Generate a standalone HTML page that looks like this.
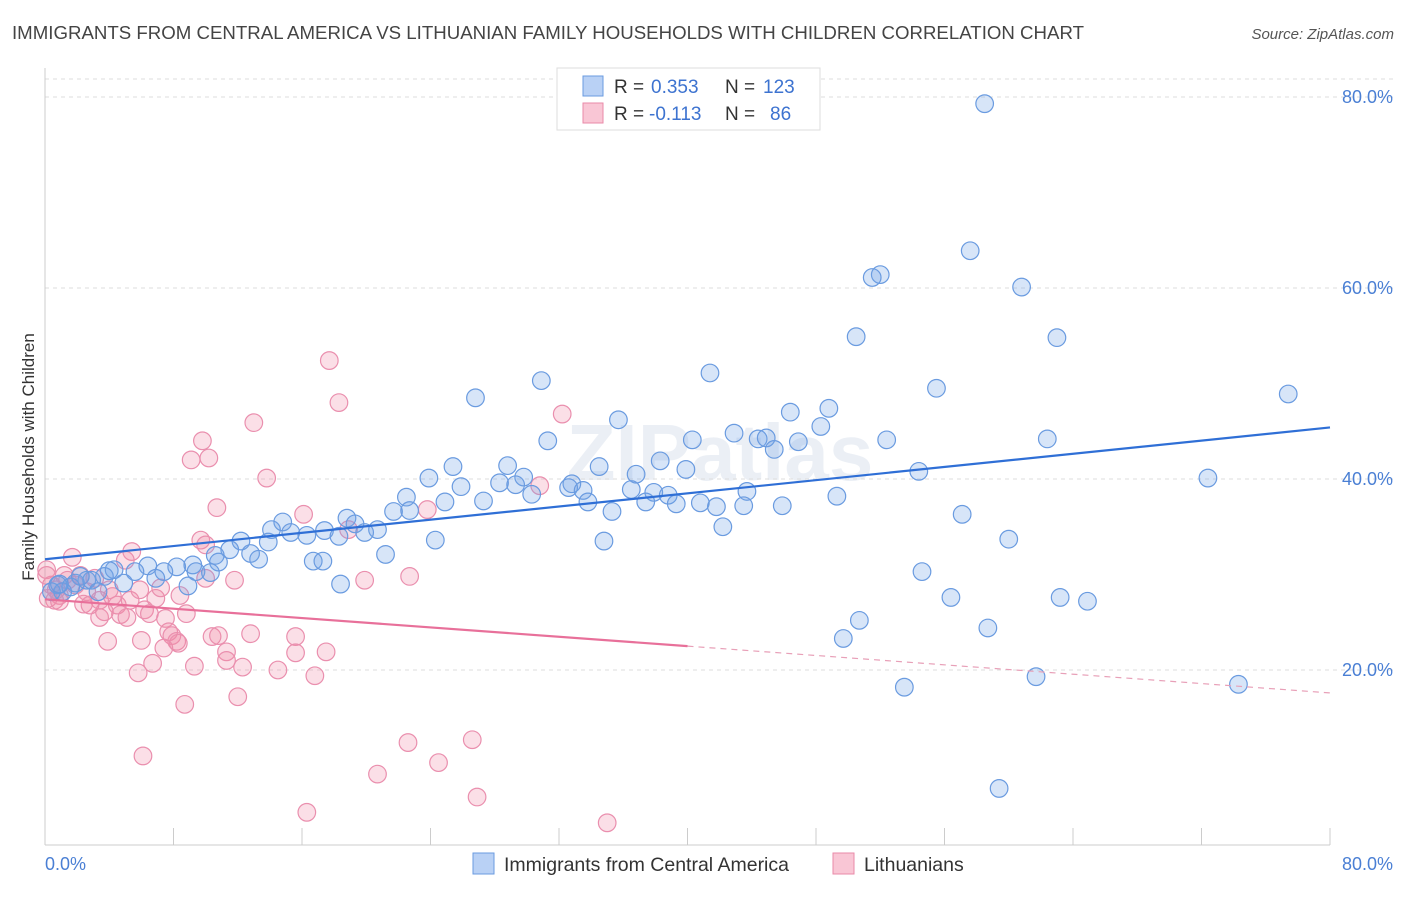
<!DOCTYPE html>
<html><head><meta charset="utf-8"><style>
body{margin:0;background:#fff;font-family:"Liberation Sans",sans-serif;}
svg text{font-family:"Liberation Sans",sans-serif;}
</style></head><body>
<svg id="chart" width="1406" height="892" xmlns="http://www.w3.org/2000/svg">
<text x="12" y="39" font-size="18.6" fill="#444" textLength="1072" lengthAdjust="spacingAndGlyphs">IMMIGRANTS FROM CENTRAL AMERICA VS LITHUANIAN FAMILY HOUSEHOLDS WITH CHILDREN CORRELATION CHART</text>
<text x="1394" y="39" font-size="15" fill="#555" font-style="italic" text-anchor="end">Source: ZipAtlas.com</text>
<text x="720" y="480" font-size="80" fill="#dfe6f0" text-anchor="middle" font-weight="bold" opacity="0.6">ZIPatlas</text>
<g id="grid"></g>
<g id="axes"></g>
<g id="pinkPts"></g>
<g id="bluePts"></g>
<g id="trends"></g>
<text transform="translate(34,457) rotate(-90)" font-size="17" fill="#333" text-anchor="middle">Family Households with Children</text>
<g>
<rect x="557" y="68" width="263" height="62" fill="#fff" stroke="#ddd"/>
<rect x="583" y="76" width="20" height="20" fill="#b9d1f5" stroke="#6a9be0"/>
<rect x="583" y="103" width="20" height="20" fill="#f9c6d5" stroke="#e98aa8"/>
<text x="614" y="93" font-size="19" fill="#333">R =</text>
<text x="651" y="93" font-size="19" fill="#3d73d0">0.353</text>
<text x="725" y="93" font-size="19" fill="#333">N =</text>
<text x="763" y="93" font-size="19" fill="#3d73d0">123</text>
<text x="614" y="120" font-size="19" fill="#333">R =</text>
<text x="649" y="120" font-size="19" fill="#3d73d0">-0.113</text>
<text x="725" y="120" font-size="19" fill="#333">N =</text>
<text x="770" y="120" font-size="19" fill="#3d73d0">86</text>
</g>
<g>
<rect x="473" y="853" width="21" height="21" fill="#b9d1f5" stroke="#6a9be0"/>
<text x="504" y="871" font-size="19.5" fill="#333">Immigrants from Central America</text>
<rect x="833" y="853" width="21" height="21" fill="#f9c6d5" stroke="#e98aa8"/>
<text x="864" y="871" font-size="19.5" fill="#333">Lithuanians</text>
</g>
</svg>
<script>
const blueX=[58.5,57.6,52.0,51.5,60.8,50.5,63.0,41.4,30.9,55.5,26.8,77.4,46.4,48.8,35.7,48.3,42.9,44.4,44.9,31.3,40.3,46.9,52.4,62.4,45.4,38.3,39.9,25.4,28.8,34.5,23.9,36.8,54.4,72.4,28.3,29.8,32.8,25.9,29.3,32.6,33.5,36.5,37.9,38.8,43.7,49.3,22.5,24.9,27.3,30.3,33.8,37.4,39.3,40.8,41.8,43.5,45.9,21.7,22.7,35.3,57.1,18.8,14.8,19.3,14.1,15.3,16.3,17.4,20.7,18.3,19.9,12.2,13.9,11.5,12.8,10.6,13.3,21.2,24.3,34.8,42.2,60.0,16.7,17.3,9.2,10.8,8.2,6.4,7.4,9.4,4.3,5.6,3.7,2.6,6.9,1.9,2.9,10.3,4.9,8.9,0.8,1.6,1.1,0.4,3.3,18.4,54.6,56.4,63.2,64.9,50.7,49.7,58.7,53.5,61.7,74.3,59.4,0.9,2.2,4.0];
const blueY=[79.3,63.9,61.4,61.1,60.1,54.9,54.8,51.1,50.3,49.5,48.5,48.9,47.0,47.4,46.2,45.5,44.8,44.2,44.3,44.0,44.1,43.9,44.1,44.2,43.1,41.9,41.0,41.3,41.4,41.3,40.1,40.5,40.8,40.1,39.6,40.2,39.5,39.2,39.4,39.1,38.8,38.9,38.6,38.3,38.7,38.2,38.1,37.6,37.7,38.4,37.6,37.6,37.4,37.5,37.1,37.2,37.2,36.6,36.7,36.6,36.3,35.9,35.5,35.3,34.7,34.4,34.1,34.6,34.7,34.0,34.4,33.5,33.4,32.6,32.2,32.0,31.6,32.1,33.6,33.5,35.0,33.7,31.4,31.4,31.0,31.3,30.8,30.9,30.3,30.3,30.5,30.3,29.8,29.4,29.6,29.1,29.4,30.2,29.1,28.8,28.9,28.7,28.2,28.2,28.2,29.0,30.3,27.6,27.6,27.2,25.2,23.3,24.4,18.2,19.3,18.5,7.6,29.0,29.8,30.4];
const pinkX=[17.7,18.3,13.0,9.8,9.1,10.2,13.8,32.2,10.7,16.1,30.8,23.8,18.9,9.7,10.0,5.4,1.7,5.0,1.2,2.2,3.1,0.1,0.4,0.9,1.4,2.6,3.4,4.0,4.5,5.3,6.2,6.9,7.2,8.4,4.7,3.4,3.7,5.1,6.5,7.5,8.8,19.9,22.7,0.6,0.2,7.7,7.9,8.2,10.4,10.8,12.8,15.6,6.0,3.9,7.4,8.3,11.3,15.6,17.5,11.3,12.3,6.7,9.3,14.5,5.8,16.8,12.0,8.7,6.1,22.6,26.6,20.7,24.5,16.3,26.9,35.0,0.1,0.7,1.9,2.4,4.2,11.8,10.0,0.9,2.8,5.9];
const pinkY=[52.4,48.0,45.9,44.0,42.0,42.2,40.1,46.8,37.0,36.3,39.3,36.8,34.7,33.6,33.1,32.4,31.8,31.5,29.9,29.9,29.6,30.5,28.9,27.8,29.4,28.2,27.3,28.4,26.8,27.3,26.3,27.5,28.6,27.8,25.8,25.5,26.1,25.5,25.9,25.4,25.9,29.4,29.8,27.3,27.5,24.0,23.6,23.0,23.5,23.6,23.8,23.5,23.1,23.0,22.3,22.8,21.9,21.8,21.9,21.0,20.3,20.7,20.4,20.0,19.7,19.4,17.2,16.4,11.0,12.4,12.7,9.1,10.3,5.1,6.7,4.0,29.9,28.4,28.9,26.9,27.7,29.4,29.6,27.2,26.8,28.4];
const blueTrend=[31.6,45.4];
const pinkTrend=[27.4,17.6];
const yTicks=[20,40,60,80];
const yTickLabels=["20.0%","40.0%","60.0%","80.0%"];
const xTickVals=[0,8,16,24,32,40,48,56,64,72,80];

const NS="http://www.w3.org/2000/svg";
const X=v=>45+v*16.0625;
const Y=v=>861-v*9.55;
function mk(tag,attrs,parent){const e=document.createElementNS(NS,tag);for(const k in attrs)e.setAttribute(k,attrs[k]);parent.appendChild(e);return e;}
const grid=document.getElementById('grid'),axes=document.getElementById('axes');
let tl=mk('line',{x1:45,x2:1393,y1:79,y2:79,stroke:'#ddd','stroke-dasharray':'4,4'},grid);


yTicks.forEach((t,i)=>{
  const g=mk('line',{x1:45,x2:1393,y1:Y(t),y2:Y(t),stroke:'#ddd','stroke-dasharray':'4,4'},grid);
  
  
  const tx=mk('text',{x:1393,y:Y(t)+6,'font-size':18,fill:'#4a7fd4','text-anchor':'end'},axes);
  tx.textContent=yTickLabels[i];
  
  
});
let ya=mk('line',{x1:45,x2:45,y1:68,y2:845,stroke:'#ccc'},axes);


let xa=mk('line',{x1:45,x2:1330,y1:845,y2:845,stroke:'#ccc'},axes);


xTickVals.forEach(v=>{
  const t=mk('line',{x1:X(v),x2:X(v),y1:828,y2:845,stroke:'#ccc'},axes);
  
  
});
let x0=mk('text',{x:45,y:870,'font-size':18,fill:'#4a7fd4'},axes);x0.textContent='0.0%';


let x1=mk('text',{x:1393,y:870,'font-size':18,fill:'#4a7fd4','text-anchor':'end'},axes);x1.textContent='80.0%';



const bp=document.getElementById('bluePts'),pp=document.getElementById('pinkPts');
pinkX.forEach((v,i)=>{
  const c=mk('circle',{cx:X(v),cy:Y(pinkY[i]),r:8.8,fill:'rgba(240,140,170,0.28)',stroke:'#ea8fae','stroke-width':1.2},pp);
  
  
});
blueX.forEach((v,i)=>{
  const c=mk('circle',{cx:X(v),cy:Y(blueY[i]),r:8.8,fill:'rgba(110,160,230,0.28)',stroke:'#6a9be0','stroke-width':1.2},bp);
  
  
});
const tr=document.getElementById('trends');
let bl=mk('line',{x1:X(0),y1:Y(blueTrend[0]),x2:X(80),y2:Y(blueTrend[1]),stroke:'#2f6fd6','stroke-width':2.2},tr);


const pm=pinkTrend[0]+(pinkTrend[1]-pinkTrend[0])*0.5;
let pl=mk('line',{x1:X(0),y1:Y(pinkTrend[0]),x2:X(40),y2:Y(pm),stroke:'#e8709a','stroke-width':2.2},tr);


let pd=mk('line',{x1:X(40),y1:Y(pm),x2:X(80),y2:Y(pinkTrend[1]),stroke:'#e8a0b8','stroke-width':1.2,'stroke-dasharray':'6,5'},tr);


</script>
</body></html>
